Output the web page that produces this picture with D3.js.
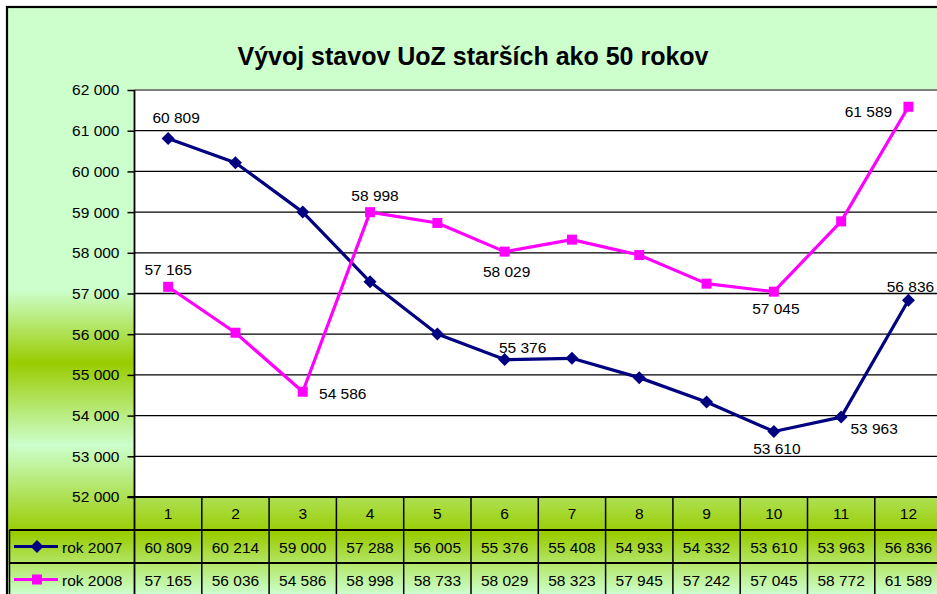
<!DOCTYPE html>
<html>
<head>
<meta charset="utf-8">
<script src="https://cdn.jsdelivr.net/npm/d3@7"></script>
<style>
  html, body { margin: 0; padding: 0; background: #fff; }
  svg { display: block; font-family: "Liberation Sans", Arial, sans-serif; }
</style>
</head>
<body>
<svg id="chart" width="937" height="594"></svg>
<script>
// ---------- DATA ----------
const title = "Vývoj stavov UoZ starších ako 50 rokov";
const categories = ["1","2","3","4","5","6","7","8","9","10","11","12"];
const seriesNames = ["rok 2007", "rok 2008"];
const values2007 = [60809, 60214, 59000, 57288, 56005, 55376, 55408, 54933, 54332, 53610, 53963, 56836];
const values2008 = [57165, 56036, 54586, 58998, 58733, 58029, 58323, 57945, 57242, 57045, 58772, 61589];
const yTicks = [52000, 53000, 54000, 55000, 56000, 57000, 58000, 59000, 60000, 61000, 62000];
// which points carry a data label (index into series)
const labeled2007 = [0, 5, 9, 10, 11];
const labeled2008 = [0, 2, 3, 5, 9, 11];

// ---------- LAYOUT / STYLE ----------
const W = 937, H = 594;
const plotLeft = 134.5, colW = 67.3, plotTop = 90, plotBottom = 497;
const rowH1 = 33, rowH2 = 33;
const fontSize = 15.5;
// label offsets (dx, dy) relative to the point, per series and index
const labelOffsets2007 = {0:[8,-21], 5:[18,-12], 9:[3,17], 10:[33,11], 11:[2,-14]};
const labelOffsets2008 = {0:[0,-17], 2:[40,2], 3:[5,-17], 5:[2,20], 9:[2,17], 11:[-40,5]};

const svg = d3.select("#chart");
const fmt = d3.formatLocale({decimal: ",", thousands: " ", grouping: [3], currency: ["", ""]}).format(",d");

// gradient background
const defs = svg.append("defs");
const grad = defs.append("linearGradient").attr("id", "bg")
  .attr("gradientUnits", "userSpaceOnUse").attr("x1", 0).attr("y1", 8).attr("x2", 0).attr("y2", 594);
[[8, "#CCFFCC"], [290, "#CCFFCC"], [363, "#99CC00"], [445, "#CCFFCC"], [533, "#99CC00"], [594, "#CCFFCC"]]
  .forEach(([y, c]) => grad.append("stop").attr("offset", ((y - 8) / 586)).attr("stop-color", c));

svg.append("rect").attr("x", 0).attr("y", 0).attr("width", W).attr("height", H).attr("fill", "#fff");
svg.append("rect").attr("x", 7).attr("y", 7).attr("width", W + 20).attr("height", H + 20)
  .attr("fill", "url(#bg)").attr("stroke", "#000").attr("stroke-width", 2.2);

// title
svg.append("text").attr("x", 473).attr("y", 56).attr("text-anchor", "middle")
  .attr("dominant-baseline", "central").attr("font-weight", "bold").attr("font-size", 25)
  .attr("fill", "#000").text(title);

// scales
const x = d3.scaleBand().domain(categories).range([plotLeft, plotLeft + colW * categories.length]).padding(0);
const y = d3.scaleLinear().domain([52000, 62000]).range([plotBottom, plotTop]);
const cx = c => x(c) + x.bandwidth() / 2;

// plot area
svg.append("rect").attr("x", plotLeft).attr("y", plotTop).attr("width", W - plotLeft + 10)
  .attr("height", plotBottom - plotTop).attr("fill", "#fff");

// gridlines
svg.append("g").selectAll("line").data(yTicks.filter(t => t !== 62000 && t !== 52000)).join("line")
  .attr("x1", plotLeft).attr("x2", W + 5).attr("y1", d => y(d)).attr("y2", d => y(d))
  .attr("stroke", "#000").attr("stroke-width", 1.3);
svg.append("line").attr("x1", plotLeft).attr("x2", W + 5).attr("y1", y(62000)).attr("y2", y(62000))
  .attr("stroke", "#808080").attr("stroke-width", 2.2);

// y axis
const yAxis = svg.append("g").attr("transform", `translate(${plotLeft},0)`)
  .call(d3.axisLeft(y).tickValues(yTicks).tickSize(7).tickPadding(8).tickFormat(fmt));
yAxis.select(".domain").remove();
yAxis.selectAll(".tick line").attr("stroke", "#000").attr("stroke-width", 1.5);
yAxis.selectAll(".tick text").attr("font-size", fontSize).attr("fill", "#000")
  .attr("font-family", "Liberation Sans, Arial, sans-serif");
svg.append("line").attr("x1", plotLeft).attr("x2", plotLeft).attr("y1", plotTop).attr("y2", H + 5)
  .attr("stroke", "#000").attr("stroke-width", 1.8);

// ---------- data table ----------
const tbl = svg.append("g");
const rowTop1 = plotBottom + rowH1, rowTop2 = rowTop1 + rowH2;
// horizontal lines
[[plotBottom, plotLeft - 7], [rowTop1, 9.5], [rowTop2, 9.5]].forEach(([yy, x0]) =>
  tbl.append("line").attr("x1", x0).attr("x2", W + 5).attr("y1", yy).attr("y2", yy)
    .attr("stroke", "#000").attr("stroke-width", 1.8));
// vertical lines
tbl.selectAll("line.v").data(categories).join("line").attr("class", "v")
  .attr("x1", d => x(d) + x.bandwidth()).attr("x2", d => x(d) + x.bandwidth())
  .attr("y1", plotBottom).attr("y2", H + 5).attr("stroke", "#000").attr("stroke-width", 1.5);
tbl.append("line").attr("x1", 9.5).attr("x2", 9.5).attr("y1", rowTop1).attr("y2", H + 5)
  .attr("stroke", "#000").attr("stroke-width", 1.5);
// header labels
tbl.selectAll("text.h").data(categories).join("text").attr("class", "h")
  .attr("x", d => cx(d)).attr("y", plotBottom + rowH1 / 2).attr("text-anchor", "middle")
  .attr("dominant-baseline", "central").attr("font-size", fontSize).text(d => d);
// value cells
[[values2007, rowTop1], [values2008, rowTop2]].forEach(([vals, top]) =>
  tbl.append("g").selectAll("text").data(vals).join("text")
    .attr("x", (d, i) => cx(categories[i])).attr("y", top + rowH2 / 2 + 1)
    .attr("text-anchor", "middle").attr("dominant-baseline", "central")
    .attr("font-size", fontSize).text(d => fmt(d)));

// legend keys
const diamond = r => `M0,${-r}L${r},0L0,${r}L${-r},0Z`;
const square = s => `M${-s/2},${-s/2}h${s}v${s}h${-s}Z`;
const seriesStyle = [
  {color: "#000080", shape: diamond(6.5), vals: values2007, labeled: labeled2007, off: labelOffsets2007},
  {color: "#FF00FF", shape: square(10), vals: values2008, labeled: labeled2008, off: labelOffsets2008}
];
seriesStyle.forEach((s, k) => {
  const yy = (k === 0 ? rowTop1 : rowTop2) + rowH2 / 2;
  tbl.append("line").attr("x1", 14).attr("x2", 58).attr("y1", yy).attr("y2", yy)
    .attr("stroke", s.color).attr("stroke-width", 3);
  tbl.append("path").attr("d", s.shape).attr("transform", `translate(37,${yy})`).attr("fill", s.color);
  tbl.append("text").attr("x", 62).attr("y", yy + 1).attr("dominant-baseline", "central")
    .attr("font-size", fontSize).text(seriesNames[k]);
});

// ---------- lines ----------
const line = d3.line().x((d, i) => cx(categories[i])).y(d => y(d));
seriesStyle.forEach(s => {
  const g = svg.append("g");
  g.append("path").attr("d", line(s.vals)).attr("fill", "none")
    .attr("stroke", s.color).attr("stroke-width", 3.2).attr("stroke-linejoin", "round");
  g.selectAll("path.m").data(s.vals).join("path").attr("class", "m").attr("d", s.shape)
    .attr("transform", (d, i) => `translate(${cx(categories[i])},${y(d)})`).attr("fill", s.color);
  g.selectAll("text").data(s.labeled).join("text")
    .attr("x", i => cx(categories[i]) + s.off[i][0]).attr("y", i => y(s.vals[i]) + s.off[i][1])
    .attr("text-anchor", "middle").attr("dominant-baseline", "central")
    .attr("font-size", fontSize).attr("fill", "#000").text(i => fmt(s.vals[i]));
});
</script>
</body>
</html>
